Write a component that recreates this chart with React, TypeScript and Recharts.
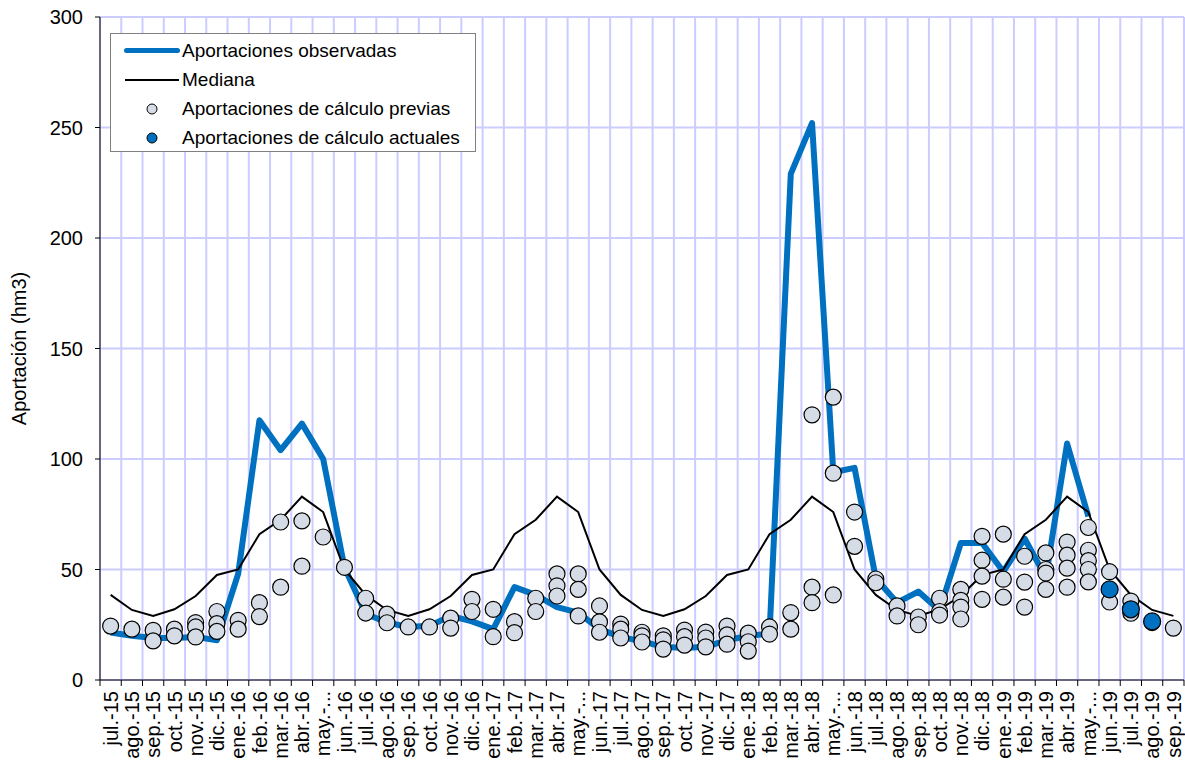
import React from "react";
import { ComposedChart, Line, Scatter, XAxis, YAxis, CartesianGrid, Legend } from "recharts";

// Monthly series, jul-15 .. sep-19
const meses = [
  "jul.-15", "ago.-15", "sep.-15", "oct.-15", "nov.-15", "dic.-15",
  "ene.-16", "feb.-16", "mar.-16", "abr.-16", "may.-...", "jun.-16",
  "jul.-16", "ago.-16", "sep.-16", "oct.-16", "nov.-16", "dic.-16",
  "ene.-17", "feb.-17", "mar.-17", "abr.-17", "may.-...", "jun.-17",
  "jul.-17", "ago.-17", "sep.-17", "oct.-17", "nov.-17", "dic.-17",
  "ene.-18", "feb.-18", "mar.-18", "abr.-18", "may.-...", "jun.-18",
  "jul.-18", "ago.-18", "sep.-18", "oct.-18", "nov.-18", "dic.-18",
  "ene.-19", "feb.-19", "mar.-19", "abr.-19", "may.-...", "jun.-19",
  "jul.-19", "ago.-19", "sep.-19",
];

const observadas: (number | null)[] = [
  21.5, 20, 19, 19, 19.5, 18,
  48, 117.5, 104, 116, 100, 51,
  30, 26, 24, 24.5, 29, 26.5,
  23, 42, 38.5, 33, 30.5, 23,
  19.5, 17.5, 15, 14.5, 15, 18,
  20, 21, 229, 252, 94, 96,
  46, 35, 40, 31.5, 62, 62,
  49, 64, 46.5, 107, 74, null,
  null, null, null,
];

const mediana = [
  38.5, 31.7, 29, 32, 38, 47.5,
  50, 66, 72.5, 83, 76, 50,
  38.5, 31.7, 29, 32, 38, 47.5,
  50, 66, 72.5, 83, 76, 50,
  38.5, 31.7, 29, 32, 38, 47.5,
  50, 66, 72.5, 83, 76, 50,
  38.5, 31.7, 29, 32, 38, 47.5,
  50, 66, 72.5, 83, 76, 50,
  38.5, 31.7, 29,
];

// previous forecasts, several per month
const previas: number[][] = [
  [24.4], [23], [22.5, 17.7], [23, 20], [26, 24, 19.5], [31, 25.5, 22],
  [27, 23], [35, 28.7], [71.5, 42], [72, 51.5], [64.7], [51],
  [37, 30.3], [29.8, 25.9], [24], [24], [28, 23.5], [36.5, 31],
  [32, 19.6], [26.4, 21.4], [37, 31], [48, 42.6, 38], [48, 41, 29], [33.5, 26.3, 21.6],
  [25.3, 23, 19], [21.6, 20, 17.2], [20, 18.2, 14], [22.6, 19.6, 15.8], [21.7, 19, 15], [24.4, 20.4, 16.2],
  [21.2, 17.3, 13.1], [24, 20.8], [30.5, 23], [120, 42, 35], [128, 93.6, 38.5], [76, 60.5],
  [45.7, 44], [33.5, 29], [28.5, 25], [37, 31, 29.4], [41, 36, 33, 27.6], [65, 54.2, 47, 36.5],
  [66, 45.6, 37.5], [56, 44.3, 33], [57.5, 50, 48.4, 41], [62.4, 56.5, 50.6, 42], [69, 58.7, 54, 50, 44.4], [49, 35.3],
  [35.7, 30.2], [26], [23.5],
];

const actuales: (number | null)[] = [
  ...Array(47).fill(null), 41, 32, 26.5, null,
];

const yTicks = [0, 50, 100, 150, 200, 250, 300];

const W = 1185;
const H = 765;
const M = { top: 17, right: 1, left: 0, bottom: 0 };
const Y_W = 100;
const X_H = 85;
const PLOT_L = M.left + Y_W;
const PLOT_W = W - PLOT_L - M.right;
const BAND = PLOT_W / meses.length;

const FONT = "'Liberation Sans', Arial, sans-serif";
const BLUE = "#0070C0";
const GRAY = "#D6DCE5";

const rows = meses.map((m, i) => ({ i, m, obs: observadas[i], med: mediana[i] }));
const previasPts = previas.flatMap((vals, i) => vals.map((v) => ({ i, v })));
const actualesPts = actuales
  .map((v, i) => ({ i, v }))
  .filter((p) => p.v !== null);

const gridX = Array.from({ length: meses.length + 1 }, (_, k) => PLOT_L + k * BAND);

function MonthTick({ x, y, payload, index }: any) {
  const label = meses[payload.value];
  const ty = y + 11;
  return (
    <g>
      <line x1={x - BAND / 2} y1={y} x2={x - BAND / 2} y2={y + 6} stroke="#000" />
      {index === meses.length - 1 && (
        <line x1={x + BAND / 2} y1={y} x2={x + BAND / 2} y2={y + 6} stroke="#000" />
      )}
      <text
        x={x}
        y={ty}
        transform={`rotate(-90 ${x} ${ty})`}
        textAnchor="end"
        dy="0.36em"
        fontSize={20}
        fontFamily={FONT}
        fill="#000"
      >
        {label}
      </text>
    </g>
  );
}

function LegendBox() {
  const row = { display: "flex", alignItems: "center", height: 29 } as const;
  const sym = { width: 58, marginLeft: 12, display: "flex", justifyContent: "center" } as const;
  const txt = { marginLeft: 1, fontSize: 19, fontFamily: FONT, color: "#000", whiteSpace: "nowrap" } as const;
  return (
    <div
      style={{
        width: 366,
        height: 119,
        boxSizing: "border-box",
        border: "1px solid #808080",
        background: "#fff",
        paddingTop: 2,
      }}
    >
      <div style={row}>
        <div style={sym}>
          <div style={{ width: 56, height: 5, borderRadius: 3, background: BLUE }} />
        </div>
        <span style={txt}>Aportaciones observadas</span>
      </div>
      <div style={row}>
        <div style={sym}>
          <div style={{ width: 54, height: 2, background: "#000" }} />
        </div>
        <span style={txt}>Mediana</span>
      </div>
      <div style={row}>
        <div style={sym}>
          <svg width={12} height={12}>
            <circle cx={6} cy={6} r={5} fill={GRAY} stroke="#000" />
          </svg>
        </div>
        <span style={txt}>Aportaciones de cálculo previas</span>
      </div>
      <div style={row}>
        <div style={sym}>
          <svg width={12} height={12}>
            <circle cx={6} cy={6} r={5} fill={BLUE} stroke="#000" />
          </svg>
        </div>
        <span style={txt}>Aportaciones de cálculo actuales</span>
      </div>
    </div>
  );
}

const circle = (fill: string, r: number) => (p: any) =>
  <circle cx={p.cx} cy={p.cy} r={r} fill={fill} stroke="#000" strokeWidth={1.2} />;

export default function App() {
  return (
    <div style={{ width: W, height: H, background: "#fff" }}>
      <style>{"body{margin:0}"}</style>
      <ComposedChart width={W} height={H} data={rows} margin={M}>
        <CartesianGrid
          stroke="#CCCCFF"
          strokeWidth={2}
          verticalPoints={gridX}
        />
        <XAxis
          type="number"
          dataKey="i"
          domain={[-0.5, meses.length - 0.5]}
          ticks={meses.map((_, i) => i)}
          interval={0}
          height={X_H}
          tickSize={0}
          tickMargin={0}
          tickLine={false}
          axisLine={{ stroke: "#000" }}
          tick={<MonthTick />}
        />
        <YAxis
          type="number"
          domain={[0, 300]}
          ticks={yTicks}
          width={Y_W}
          tickSize={5}
          tickMargin={12}
          tickLine={{ stroke: "#000" }}
          axisLine={{ stroke: "#000" }}
          tick={{ fontSize: 20, fill: "#000", fontFamily: FONT }}
          label={{
            content: ({ viewBox }: any) => {
              const cy = viewBox.y + viewBox.height / 2;
              return (
                <text
                  x={19}
                  y={cy}
                  transform={`rotate(-90 19 ${cy})`}
                  textAnchor="middle"
                  dy="0.36em"
                  fontSize={20}
                  fontFamily={FONT}
                  fill="#000"
                >
                  Aportación (hm3)
                </text>
              );
            },
          }}
        />
        <Legend
          layout="vertical"
          align="center"
          verticalAlign="middle"
          content={<LegendBox />}
          wrapperStyle={{ position: "absolute", left: 110, top: 33, width: 366, height: 119 }}
        />
        <Line
          dataKey="obs"
          stroke={BLUE}
          strokeWidth={6}
          dot={false}
          activeDot={false}
          strokeLinejoin="round"
          isAnimationActive={false}
        />
        <Line
          dataKey="med"
          stroke="#000"
          strokeWidth={2}
          dot={false}
          activeDot={false}
          isAnimationActive={false}
        />
        <Scatter data={previasPts} dataKey="v" shape={circle(GRAY, 8)} isAnimationActive={false} />
        <Scatter data={actualesPts} dataKey="v" shape={circle(BLUE, 8.5)} isAnimationActive={false} />
      </ComposedChart>
    </div>
  );
}
